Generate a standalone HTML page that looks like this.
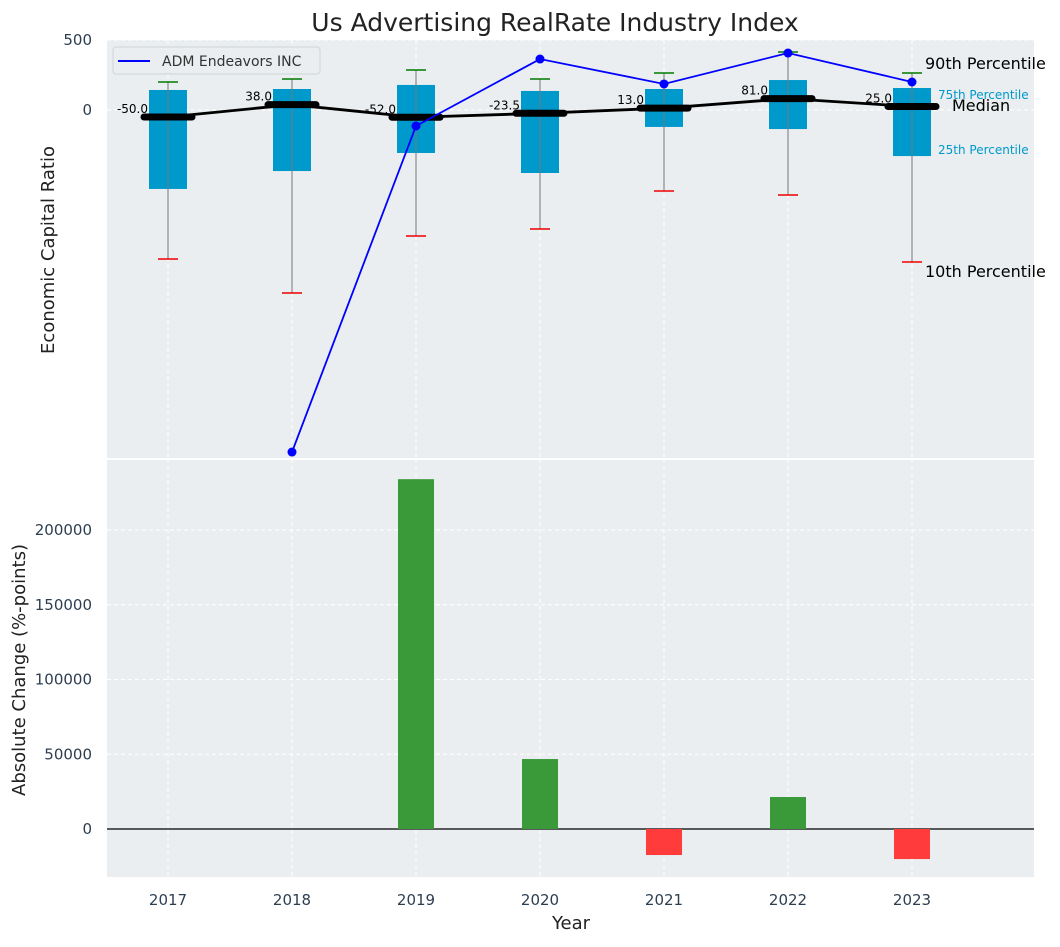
<!DOCTYPE html>
<html><head><meta charset="utf-8"><style>
body{margin:0;background:#fff;font-family:"Liberation Sans","DejaVu Sans",sans-serif}
svg text{font-family:"DejaVu Sans","Liberation Sans",sans-serif}
</style></head><body>
<svg id="c" width="1060" height="942" xmlns="http://www.w3.org/2000/svg"></svg>
<script>
const years=[2017,2018,2019,2020,2021,2022,2023];
const p90=[200,221,286,221,264,414,264];
const p75=[143,150,179,136,150,214,157];
const median=[-50,38,-52,-23.5,13,81,25];
const p25=[-564,-436,-307,-450,-121,-136,-329];
const p10=[-1064,-1307,-900,-850,-579,-607,-1086];
const admYears=[2018,2019,2020,2021,2022,2023];
const admValues=[-2443,-114,364,186,407,200];
const changeYears=[2019,2020,2021,2022,2023];
const changeValues=[234000,46800,-17400,21400,-20100];
const topTicks=[0,500];
const botTicks=[0,50000,100000,150000,200000];

const NS="http://www.w3.org/2000/svg";
const svg=document.getElementById('c');
function el(t,a,txt){const e=document.createElementNS(NS,t);for(const k in a)e.setAttribute(k,a[k]);if(txt!==undefined)e.textContent=txt;svg.appendChild(e);return e;}
const L=107,R=1034,T1=40,B1=459,T2=459,B2=877;
const x=v=>168+(v-2017)*124;
const y1=v=>110-v*0.14;
const y2=v=>829-v*0.001495;

let e;
e=el('rect',{x:L,y:T1,width:R-L,height:B1-T1,fill:'#eaeef0'});

e=el('rect',{x:L,y:T2,width:R-L,height:B2-T2,fill:'#eaeef0'});

el('line',{x1:L,x2:R,y1:459,y2:459,stroke:'#fff','stroke-width':2});
years.forEach(v=>{
 el('line',{x1:x(v),x2:x(v),y1:T1,y2:B1,stroke:'#fff','stroke-dasharray':'4,3'});
 el('line',{x1:x(v),x2:x(v),y1:T2,y2:B2,stroke:'#fff','stroke-dasharray':'4,3'});
 e=el('text',{x:x(v),y:905,'font-size':15,fill:'#2c3e50','text-anchor':'middle'},v);
 
});
topTicks.forEach(v=>{
 el('line',{x1:L,x2:R,y1:y1(v),y2:y1(v),stroke:'#fff','stroke-dasharray':'4,3'});
 e=el('text',{x:92,y:y1(v)+5,'font-size':15,fill:'#2c3e50','text-anchor':'end'},v);
 
});
botTicks.forEach(v=>{
 el('line',{x1:L,x2:R,y1:y2(v),y2:y2(v),stroke:'#fff','stroke-dasharray':'4,3'});
 e=el('text',{x:92,y:y2(v)+5,'font-size':15,fill:'#2c3e50','text-anchor':'end'},v);
 
});
years.forEach((v,i)=>{
 e=el('rect',{x:x(v)-19,y:y1(p75[i]),width:38,height:y1(p25[i])-y1(p75[i]),fill:'#0099cc'});
 
 el('line',{x1:x(v),x2:x(v),y1:y1(p90[i]),y2:y1(p10[i]),stroke:'#777','stroke-width':1});
 el('line',{x1:x(v)-10,x2:x(v)+10,y1:y1(p90[i]),y2:y1(p90[i]),stroke:'#007a00','stroke-width':1.5});
 el('line',{x1:x(v)-10,x2:x(v)+10,y1:y1(p10[i]),y2:y1(p10[i]),stroke:'#e00','stroke-width':1.5});
});
e=el('polyline',{points:years.map((v,i)=>x(v)+','+y1(median[i])).join(' '),fill:'none',stroke:'#000','stroke-width':2.8});

years.forEach((v,i)=>{
 e=el('line',{x1:x(v)-24,x2:x(v)+24,y1:y1(median[i]),y2:y1(median[i]),stroke:'#000','stroke-width':7,'stroke-linecap':'round'});
 
 e=el('text',{x:x(v)-20,y:y1(median[i])-4,'font-size':12,'text-anchor':'end'},median[i].toFixed(1));
 
});
e=el('polyline',{points:admYears.map((v,i)=>x(v)+','+y1(admValues[i])).join(' '),fill:'none',stroke:'blue','stroke-width':1.8});

admYears.forEach((v,i)=>{e=el('circle',{cx:x(v),cy:y1(admValues[i]),r:4.5,fill:'blue'});
 });
el('line',{x1:L,x2:R,y1:y2(0),y2:y2(0),stroke:'#000','stroke-width':1.2});
changeYears.forEach((v,i)=>{const c=changeValues[i];
 e=el('rect',{x:x(v)-18,y:Math.min(y2(c),y2(0)),width:36,height:Math.abs(y2(c)-y2(0)),fill:c>=0?'#3a9a3a':'#ff3b3b'});
 });
const ann=[[925,69,'90th Percentile',16,'#000'],[938,99,'75th Percentile',12,'#0099cc'],[952,111,'Median',16,'#000'],[938,154,'25th Percentile',12,'#0099cc'],[925,277,'10th Percentile',16,'#000']];
ann.forEach(a=>{e=el('text',{x:a[0],y:a[1],'font-size':a[3],fill:a[4]},a[2]);});
e=el('rect',{x:113,y:47,width:207,height:27,rx:3,fill:'#eaeef0',stroke:'#cfd4d8'});

el('line',{x1:118,x2:150,y1:61,y2:61,stroke:'blue','stroke-width':2});
e=el('text',{x:162,y:66,'font-size':14,fill:'#333'},'ADM Endeavors INC');

e=el('text',{x:555,y:31,'font-size':25,fill:'#222','text-anchor':'middle'},'Us Advertising RealRate Industry Index');

e=el('text',{x:571,y:929,'font-size':18,fill:'#222','text-anchor':'middle'},'Year');

e=el('text',{x:0,y:0,'font-size':18,fill:'#222','text-anchor':'middle',transform:'translate(54,250) rotate(-90)'},'Economic Capital Ratio');

e=el('text',{x:0,y:0,'font-size':18,fill:'#222','text-anchor':'middle',transform:'translate(25,670) rotate(-90)'},'Absolute Change (%-points)');

</script>
</body></html>
